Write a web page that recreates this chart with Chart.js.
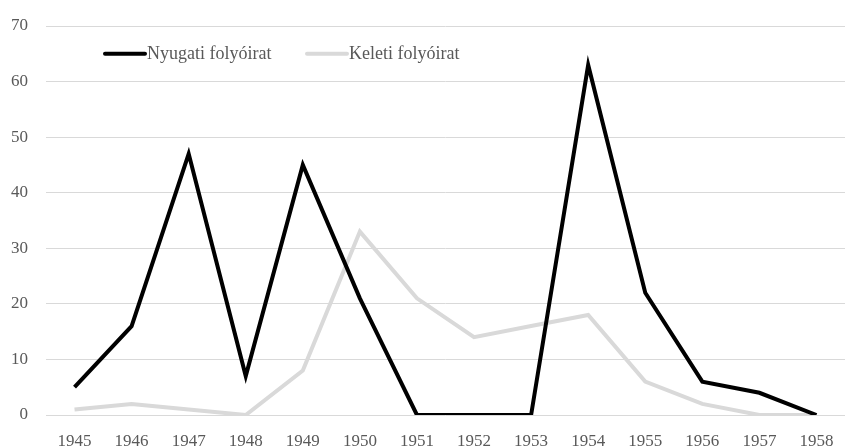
<!DOCTYPE html>
<html>
<head>
<meta charset="utf-8">
<script src="https://cdn.jsdelivr.net/npm/chart.js@4"></script>
<style>
  html, body { margin: 0; padding: 0; background: #fff; }
  #wrap { width: 845px; height: 447px; }
</style>
</head>
<body>
<div id="wrap"><canvas id="myChart" width="845" height="447"></canvas></div>
<script>
const years = ["1945", "1946", "1947", "1948", "1949", "1950", "1951",
    "1952", "1953", "1954", "1955", "1956", "1957", "1958"];
const nyugati = [5, 16, 47, 7, 45, 21, 0, 0, 0, 63, 22, 6, 4, 0];
const keleti = [1, 2, 1, 0, 8, 33, 21, 14, 16, 18, 6, 2, 0, 0];
const yTicks = [0, 10, 20, 30, 40, 50, 60, 70];

const serif = "'Liberation Serif', 'DejaVu Serif', serif";

// legend drawn inside the plot area, like the original
const innerLegend = {
    id: "innerLegend",
    afterDraw(chart) {
        const ctx = chart.ctx;
        const y = chart.scales.y.getPixelForValue(65);
        const spots = [103, 305];
        ctx.save();
        ctx.font = "18px " + serif;
        ctx.textBaseline = "middle";
        chart.data.datasets.forEach((ds, i) => {
            const x = spots[i];
            ctx.strokeStyle = ds.borderColor;
            ctx.lineWidth = 4;
            ctx.lineCap = "round";
            ctx.beginPath();
            ctx.moveTo(x + 2, y);
            ctx.lineTo(x + 42, y);
            ctx.stroke();
            ctx.fillStyle = "#595959";
            ctx.fillText(ds.label, x + 44, y);
        });
        ctx.restore();
    },
};

document.addEventListener("DOMContentLoaded", function () {
    var ctx = document.getElementById("myChart").getContext("2d");

    new Chart(ctx, {
        type: "line",
        data: {
            labels: years,
            datasets: [
                {
                    label: "Nyugati folyóirat",
                    data: nyugati,
                    borderColor: "#000000",
                    backgroundColor: "#000000",
                    borderWidth: 4,
                    pointRadius: 0,
                    tension: 0,
                },
                {
                    label: "Keleti folyóirat",
                    data: keleti,
                    borderColor: "#d9d9d9",
                    backgroundColor: "#d9d9d9",
                    borderWidth: 4,
                    pointRadius: 0,
                    tension: 0,
                },
            ],
        },
        options: {
            responsive: false,
            animation: false,
            layout: {
                padding: { top: 26, right: -12, bottom: 0, left: 0 },
            },
            plugins: {
                legend: { display: false },
                tooltip: { enabled: false },
            },
            scales: {
                x: {
                    offset: true,
                    grid: { display: false, drawTicks: false },
                    border: { display: false },
                    afterFit: (axis) => {
                        axis.height = 32;
                        axis.paddingLeft = 0;
                        axis.paddingRight = 0;
                    },
                    ticks: {
                        color: "#595959",
                        font: { family: serif, size: 17 },
                        padding: 16,
                        maxRotation: 0,
                        autoSkip: false,
                    },
                },
                y: {
                    min: 0,
                    max: 70,
                    afterBuildTicks: (axis) => {
                        axis.ticks = yTicks.map((v) => ({ value: v }));
                    },
                    afterFit: (axis) => {
                        axis.width = 46;
                        axis.paddingTop = 0;
                        axis.paddingBottom = 0;
                    },
                    grid: { color: "#d9d9d9", lineWidth: 1, drawTicks: false },
                    border: { display: false },
                    ticks: {
                        color: "#595959",
                        font: { family: serif, size: 17 },
                        padding: 18,
                    },
                },
            },
        },
        plugins: [innerLegend],
    });
});
</script>
</body>
</html>
